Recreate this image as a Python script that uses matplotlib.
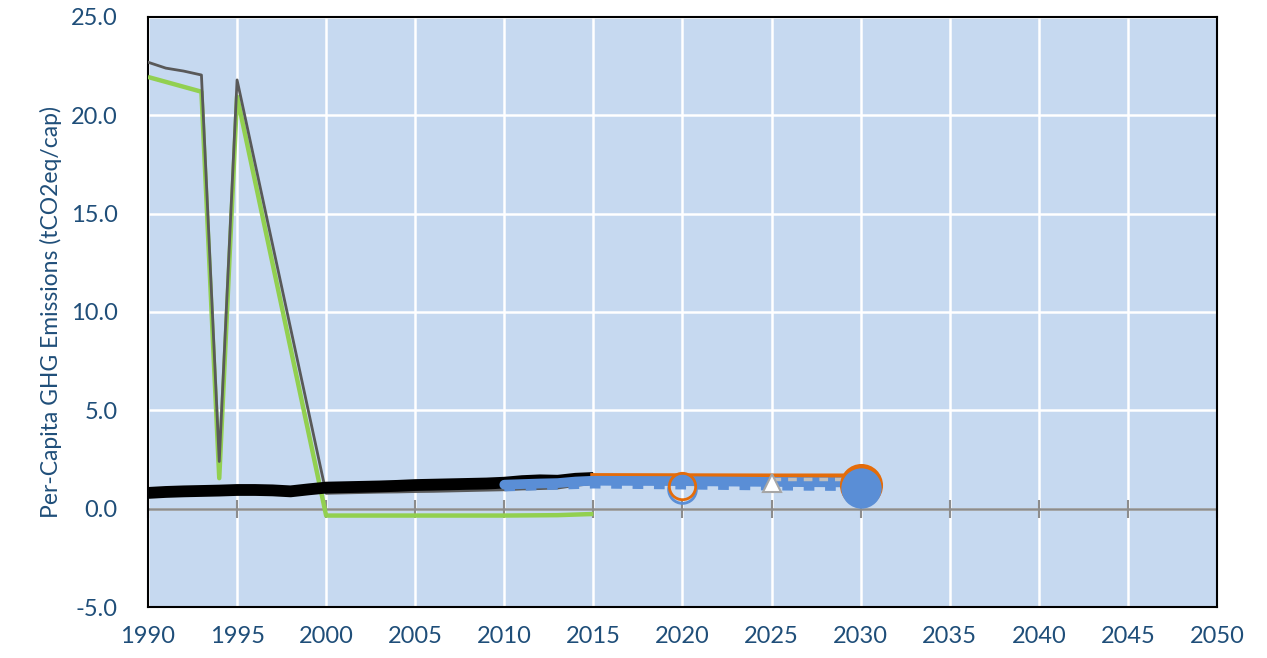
import matplotlib
matplotlib.use("Agg")
import matplotlib.pyplot as plt

plt.rcParams['font.family'] = ['Lato', 'DejaVu Sans']

# ---- data ----
gray_years = [1990, 1991, 1992, 1993, 1994, 1995, 2000, 2001, 2002, 2003, 2004, 2005,
              2006, 2007, 2008, 2009, 2010, 2011, 2012, 2013, 2014, 2015]
gray_vals = [22.7, 22.4, 22.25, 22.05, 2.4, 21.8, 0.78, 0.8, 0.82, 0.84, 0.85, 0.87,
             0.88, 0.9, 0.92, 0.94, 0.96, 1.0, 1.02, 1.05, 1.18, 1.28]

green_years = [1990, 1991, 1992, 1993, 1994, 1995, 2000, 2005, 2010, 2013, 2015]
green_vals = [21.95, 21.7, 21.45, 21.2, 1.55, 20.95, -0.35, -0.35, -0.35, -0.33, -0.27]

black_years = list(range(1990, 2016))
black_vals = [0.8, 0.85, 0.88, 0.9, 0.92, 0.95, 0.95, 0.93, 0.88, 0.98, 1.07, 1.09, 1.11,
              1.13, 1.16, 1.2, 1.22, 1.24, 1.26, 1.28, 1.32, 1.4, 1.44, 1.42, 1.52, 1.56]

blue_years = [2010, 2011, 2012, 2013, 2014, 2015, 2020, 2025, 2030]
blue_vals = [1.22, 1.25, 1.28, 1.3, 1.38, 1.42, 1.4, 1.36, 1.33]

blue_dash_years = [2010, 2015, 2020, 2025, 2030]
blue_dash_vals = [1.0, 1.15, 1.1, 1.05, 1.02]

orange_years = [2015, 2020, 2025, 2030]
orange_vals = [1.65, 1.64, 1.63, 1.63]

light_dash_years = [2025, 2030]
light_dash_vals = [1.5, 1.5]

marker_2020_orange = (2020, 1.17)
marker_2020_blue = (2020, 1.0)
marker_2025_tri = (2025, 1.3)
marker_2030_orange = (2030, 1.2)
marker_2030_blue = (2030, 1.05)

x_ticks = list(range(1990, 2051, 5))
y_ticks = [-5, 0, 5, 10, 15, 20, 25]
ylabel = "Per-Capita GHG Emissions (tCO2eq/cap)"

# ---- colors ----
BG = "#C6D9F0"
TXT = "#1F4E79"
ORANGE = "#E46C0A"
BLUE = "#5A8ED6"
GREEN = "#92D050"
GRAY = "#595959"
AXGRAY = "#8C8C8C"

fig = plt.figure(figsize=(12.67, 6.58), dpi=100)
ax = fig.add_axes([0.1168, 0.0775, 0.9605 - 0.1168, 0.9742 - 0.0775])
ax.set_facecolor(BG)
ax.set_xlim(1990, 2050)
ax.set_ylim(-5, 25)
ax.set_xticks(x_ticks)
ax.set_yticks(y_ticks)
ax.set_xticklabels([str(t) for t in x_ticks])
ax.set_yticklabels([f"{t:.1f}" for t in y_ticks])
ax.tick_params(axis='both', length=0, labelsize=17, colors=TXT)
ax.tick_params(axis='x', pad=14)
ax.tick_params(axis='y', pad=22)
ax.grid(True, color="white", linewidth=1.8, zorder=0)
ax.set_axisbelow(True)
for s in ax.spines.values():
    s.set_color("black")
    s.set_linewidth(1.5)

ax.set_ylabel(ylabel, fontsize=16.5, color=TXT, labelpad=6)

# zero axis with tick marks
ax.axhline(0, color=AXGRAY, linewidth=1.8, zorder=1)
ax.plot(x_ticks, [0] * len(x_ticks), linestyle='none', marker='|', markersize=13,
        markeredgewidth=1.5, color=AXGRAY, zorder=1, clip_on=False)

# ---- lines ----
ax.plot(green_years, green_vals, color=GREEN, linewidth=3.2, zorder=3, solid_capstyle='butt')
ax.plot(gray_years, gray_vals, color=GRAY, linewidth=2.0, zorder=4)
ax.plot(black_years, black_vals, color="black", linewidth=8.5, zorder=5, solid_capstyle='butt')
ax.plot(orange_years, orange_vals, color=ORANGE, linewidth=4.5, zorder=6)
ax.plot(blue_years, blue_vals, color=BLUE, linewidth=7, zorder=7, solid_capstyle='round')
ax.plot(blue_dash_years, blue_dash_vals, color=BLUE, linewidth=3.5, linestyle=(0, (2.2, 2.2)), zorder=7)
ax.plot(light_dash_years, light_dash_vals, color="#BFBFBF", linewidth=2.5, linestyle=(0, (2.5, 2)), zorder=8)

# ---- markers ----
ax.plot(*marker_2020_blue, marker='o', markersize=20, markerfacecolor='none',
        markeredgecolor=BLUE, markeredgewidth=2, zorder=9)
ax.plot(*marker_2020_orange, marker='o', markersize=19, markerfacecolor='none',
        markeredgecolor=ORANGE, markeredgewidth=2, zorder=9)
ax.plot(*marker_2025_tri, marker='^', markersize=13, markerfacecolor='white',
        markeredgecolor="#A6A6A6", markeredgewidth=1.5, zorder=9)
ax.plot(*marker_2030_orange, marker='o', markersize=31, markerfacecolor=ORANGE,
        markeredgecolor='none', zorder=9)
ax.plot(*marker_2030_blue, marker='o', markersize=29, markerfacecolor=BLUE,
        markeredgecolor='none', zorder=10)

fig.savefig("out.png", dpi=100)
